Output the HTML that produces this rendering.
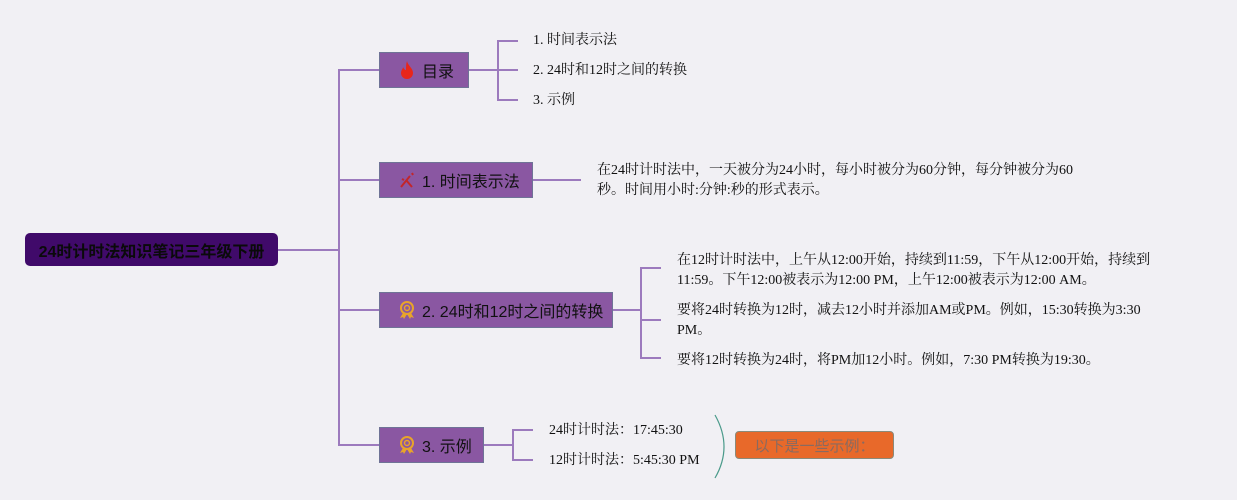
<!DOCTYPE html>
<html><head><meta charset="utf-8"><style>
body{margin:0;width:1237px;height:500px;background:#f1f0f4;position:relative;overflow:hidden;font-family:"Liberation Serif","Noto Serif CJK SC","Noto Sans CJK SC",serif;color:#111}
.a{position:absolute}
.l{position:absolute;background:#9c7abd}
.n{position:absolute;background:#8a57a2;border:1.5px solid #6f7396;box-sizing:border-box;font-size:16px;display:flex;align-items:center;padding-left:18px;font-family:"Liberation Sans","Noto Sans CJK SC",sans-serif;color:#111}
.t{position:absolute;font-size:14px;line-height:20px;white-space:nowrap}
.ic{margin-right:6px;width:18px;height:20px;display:inline-block}
</style></head><body>
<div class="a" style="left:25px;top:233px;width:253px;height:33px;background:#400a6a;border-radius:5px;font:bold 16px 'Liberation Sans','Noto Sans CJK SC',sans-serif;color:#0a0a0a;display:flex;align-items:center;justify-content:center">24时计时法知识笔记三年级下册</div>
<div class="l" style="left:278px;top:249px;width:61px;height:2px"></div>
<div class="l" style="left:338px;top:69px;width:2px;height:377px"></div>
<div class="l" style="left:339px;top:69px;width:40px;height:2px"></div>
<div class="l" style="left:339px;top:179px;width:40px;height:2px"></div>
<div class="l" style="left:339px;top:309px;width:40px;height:2px"></div>
<div class="l" style="left:339px;top:444px;width:40px;height:2px"></div>

<div class="n" style="left:379px;top:52px;width:90px;height:36px"><svg class="ic" viewBox="0 0 18 20"><path d="M9 1C10 6 15 8 15 13a6 6 0 0 1-12 0c0-3 2-4 2-6 1 2 2 3 3 3C8 7 8 4 9 1z" fill="#e8261a"/></svg>目录</div>
<div class="n" style="left:379px;top:162px;width:154px;height:36px"><svg class="ic" viewBox="0 0 18 20"><path d="M3 17L12 6M8 10l6 7M14 3l1 2M4 9l2 1" stroke="#c2262a" stroke-width="2" fill="none"/></svg>1. 时间表示法</div>
<div class="n" style="left:379px;top:292px;width:234px;height:36px"><svg class="ic" viewBox="0 0 18 20"><circle cx="9" cy="8" r="6" fill="none" stroke="#e8a42a" stroke-width="2"/><circle cx="9" cy="8" r="2.5" fill="none" stroke="#e8a42a" stroke-width="1.5"/><path d="M5 13l-3 5 3-1 1 2 3-5M13 13l3 5-3-1-1 2-3-5" fill="#e8a42a"/></svg>2. 24时和12时之间的转换</div>
<div class="n" style="left:379px;top:427px;width:105px;height:36px"><svg class="ic" viewBox="0 0 18 20"><circle cx="9" cy="8" r="6" fill="none" stroke="#e8a42a" stroke-width="2"/><circle cx="9" cy="8" r="2.5" fill="none" stroke="#e8a42a" stroke-width="1.5"/><path d="M5 13l-3 5 3-1 1 2 3-5M13 13l3 5-3-1-1 2-3-5" fill="#e8a42a"/></svg>3. 示例</div>

<div class="l" style="left:469px;top:69px;width:30px;height:2px"></div>
<div class="l" style="left:497px;top:40px;width:2px;height:61px"></div>
<div class="l" style="left:497px;top:40px;width:21px;height:2px"></div>
<div class="l" style="left:497px;top:69px;width:21px;height:2px"></div>
<div class="l" style="left:497px;top:99px;width:21px;height:2px"></div>
<div class="t" style="left:533px;top:31px">1. 时间表示法</div>
<div class="t" style="left:533px;top:61px">2. 24时和12时之间的转换</div>
<div class="t" style="left:533px;top:91px">3. 示例</div>

<div class="l" style="left:533px;top:179px;width:48px;height:2px"></div>
<div class="t" style="left:597px;top:161px">在24时计时法中，一天被分为24小时，每小时被分为60分钟，每分钟被分为60<br>秒。时间用小时:分钟:秒的形式表示。</div>

<div class="l" style="left:613px;top:309px;width:29px;height:2px"></div>
<div class="l" style="left:640px;top:267px;width:2px;height:92px"></div>
<div class="l" style="left:640px;top:267px;width:21px;height:2px"></div>
<div class="l" style="left:640px;top:319px;width:21px;height:2px"></div>
<div class="l" style="left:640px;top:357px;width:21px;height:2px"></div>
<div class="t" style="left:677px;top:251px">在12时计时法中，上午从12:00开始，持续到11:59，下午从12:00开始，持续到<br>11:59。下午12:00被表示为12:00 PM，上午12:00被表示为12:00 AM。</div>
<div class="t" style="left:677px;top:301px">要将24时转换为12时，减去12小时并添加AM或PM。例如，15:30转换为3:30<br>PM。</div>
<div class="t" style="left:677px;top:351px">要将12时转换为24时，将PM加12小时。例如，7:30 PM转换为19:30。</div>

<div class="l" style="left:484px;top:444px;width:30px;height:2px"></div>
<div class="l" style="left:512px;top:429px;width:2px;height:32px"></div>
<div class="l" style="left:512px;top:429px;width:21px;height:2px"></div>
<div class="l" style="left:512px;top:459px;width:21px;height:2px"></div>
<div class="t" style="left:549px;top:421px">24时计时法：17:45:30</div>
<div class="t" style="left:549px;top:451px">12时计时法：5:45:30 PM</div>

<svg class="a" style="left:705px;top:410px" width="30" height="70"><path d="M10 5Q28 37 10 68" stroke="#4a9a8a" stroke-width="1.2" fill="none"/></svg>
<div class="a" style="left:735px;top:431px;width:159px;height:28px;background:#e8692a;border:1.5px solid #8a8a7a;box-sizing:border-box;border-radius:4px;font:15px 'Liberation Sans','Noto Sans CJK SC',sans-serif;color:#8a6a60;display:flex;align-items:center;justify-content:center">以下是一些示例：</div>
</body></html>
